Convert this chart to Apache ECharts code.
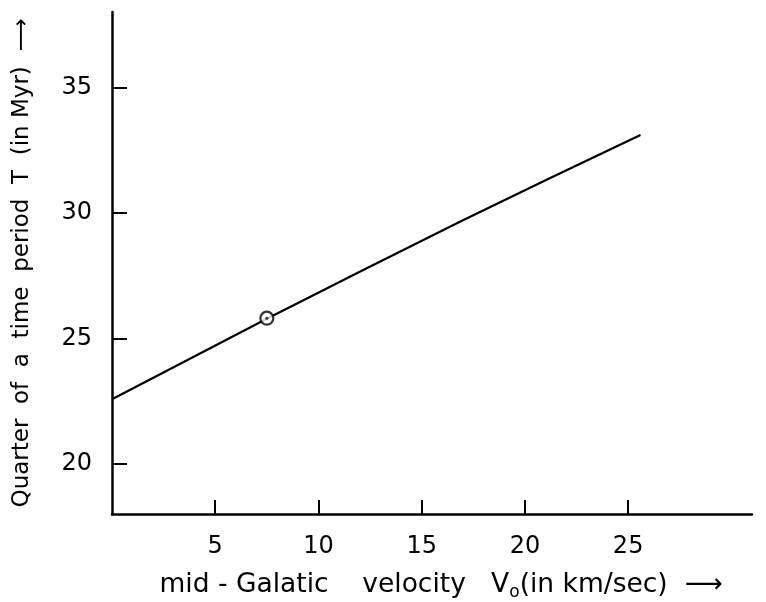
<!DOCTYPE html>
<html>
<head>
<meta charset="utf-8">
<script src="https://cdn.jsdelivr.net/npm/echarts@6/dist/echarts.min.js"></script>
<style>html,body{margin:0;padding:0;background:#fff}#c{width:766px;height:602px}</style>
</head>
<body>
<div id="c"></div>
<script>
// Data
const velocity = [0, 7.5, 12.0, 16.9, 21.2, 25.6];
const quarterPeriod = [22.57, 25.78, 27.65, 29.66, 31.38, 33.1];
const markedPoint = [7.5, 25.8];
const xTicks = [5, 10, 15, 20, 25];
const yTicks = [20, 25, 30, 35];

const font = 'DejaVu Sans';
const chart = echarts.init(document.getElementById('c'), null, {renderer: 'canvas'});
const lineData = velocity.map((v, i) => [v, quarterPeriod[i]]);

chart.setOption({
  backgroundColor: '#fff',
  animation: false,
  grid: {left: 112, top: 12, right: 14, bottom: 88, containLabel: false, outerBoundsMode: 'none'},
  xAxis: {
    type: 'value', min: 0, max: 31,
    axisLine: {show: true, lineStyle: {color: '#000', width: 2.5}},
    axisTick: {show: true, inside: true, length: 14, lineStyle: {color: '#000', width: 2}, customValues: xTicks},
    axisLabel: {color: '#000', fontFamily: font, fontSize: 24, margin: 21, customValues: xTicks},
    splitLine: {show: false},
    name: '{t|mid - Galatic    velocity   V}{s|o}{t|(in km/sec)  ⟶}',
    nameLocation: 'middle', nameGap: 56,
    nameTextStyle: {
      padding: [0, 0, 0, 18],
      rich: {
        t: {fontFamily: font, fontSize: 26.5, color: '#000'},
        s: {fontFamily: font, fontSize: 17, color: '#000', padding: [14, 0, 0, 0]}
      }
    }
  },
  yAxis: {
    type: 'value', min: 18, max: 38,
    axisLine: {show: true, lineStyle: {color: '#000', width: 2.5}},
    axisTick: {show: true, inside: true, length: 15, lineStyle: {color: '#000', width: 2}, customValues: yTicks},
    axisLabel: {color: '#000', fontFamily: font, fontSize: 24, margin: 20, customValues: yTicks},
    splitLine: {show: false},
    name: 'Quarter  of  a  time  period  T  (in Myr)  ⟶',
    nameLocation: 'middle', nameGap: 78, nameRotate: 90,
    nameTextStyle: {fontFamily: font, fontSize: 23, color: '#000'}
  },
  series: [
    {
      type: 'line', data: lineData, smooth: false, showSymbol: false,
      lineStyle: {color: '#000', width: 2.2}, z: 2
    },
    {
      type: 'scatter', data: [markedPoint], symbol: 'circle', symbolSize: 13,
      itemStyle: {color: '#fff', borderColor: '#000', borderWidth: 2.2}, z: 3
    },
    {
      type: 'scatter', data: [markedPoint], symbol: 'circle', symbolSize: 3,
      itemStyle: {color: '#000'}, z: 4
    }
  ]
});
</script>
</body>
</html>
